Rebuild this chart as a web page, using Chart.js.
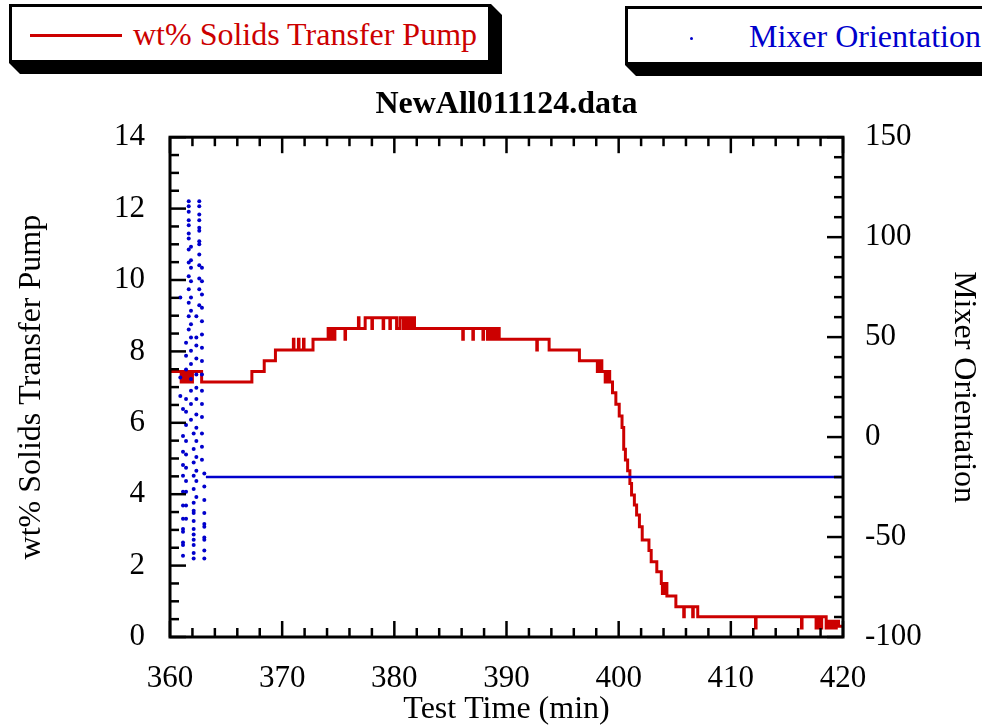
<!DOCTYPE html>
<html>
<head>
<meta charset="utf-8">
<title>NewAll011124.data</title>
<script src="https://cdn.jsdelivr.net/npm/chart.js@4/dist/chart.umd.min.js"></script>
<style>
  html, body { margin: 0; padding: 0; background: #fff; overflow: hidden; }
  #wrap { position: relative; width: 982px; height: 728px; overflow: hidden; }
  #wrap canvas { position: absolute; left: 0; top: 0; }
  .abs { position: absolute; }
  .shade { background: #000; }
  .key { box-sizing: border-box; background: #fff; border: 3px solid #000; }
  .txt { white-space: nowrap; font-family: "Liberation Serif", "Times New Roman", serif; font-size: 32px; line-height: 32px; }
</style>
</head>
<body>
<div id="wrap">
  <canvas id="chart" width="982" height="728"></canvas>

  <!-- key: solids -->
  <div class="abs shade" style="left:9px;top:4px;width:493px;height:70px;clip-path:polygon(482px 0,493px 11px,493px 70px,11px 70px,0 59px);"></div>
  <div class="abs key" style="left:9px;top:4px;width:482px;height:59px;"></div>
  <div class="abs" style="left:30px;top:34px;width:92px;height:3px;background:#cc0000;"></div>
  <span class="abs txt" style="left:133px;top:18px;color:#cc0000;">wt% Solids Transfer Pump</span>

  <!-- key: mixer -->
  <div class="abs shade" style="left:625px;top:6px;width:400px;height:70px;clip-path:polygon(0 0,400px 0,400px 70px,11px 70px,0 59px);"></div>
  <div class="abs key" style="left:625px;top:6px;width:420px;height:59px;"></div>
  <div class="abs" style="left:690px;top:37px;width:3px;height:3px;border-radius:50%;background:#0000cc;"></div>
  <span class="abs txt" style="left:749px;top:20px;color:#0000cc;">Mixer Orientation</span>
</div>

<script>
// ---- data ----
// wt% solids at the transfer pump: time (min) where the reading changes, and the new reading
const pumpTime = [
  360.0,
  361.00, 361.08, 361.16, 361.24, 361.32, 361.40, 361.48, 361.56, 361.64, 361.72, 361.80, 361.88, 361.94, 362.00,
  362.82, 367.3, 368.4, 369.4,
  371.0, 371.05, 371.45, 371.5, 371.9, 371.95, 372.75,
  374.1, 374.2, 374.3, 374.4, 374.5, 374.6, 374.7,
  375.6, 375.65, 376.8, 376.85, 377.4,
  378.0, 378.05, 379.0, 379.05, 379.6, 379.65, 380.2, 380.5,
  380.8, 380.9, 381.0, 381.1, 381.2, 381.3, 381.4, 381.5, 381.6, 381.7, 381.8,
  386.1, 386.15, 387.0, 387.05, 387.9, 387.95,
  388.3, 388.4, 388.5, 388.6, 388.7, 388.8, 388.9, 389.0, 389.1, 389.2, 389.35,
  392.7, 392.75, 393.8,
  396.5,
  398.1, 398.15, 398.3, 398.35, 398.5,
  398.8, 398.85, 398.95, 399.0, 399.1, 399.15, 399.2,
  399.45, 399.75, 400.05, 400.3, 400.45, 400.6, 400.8, 401.0, 401.15, 401.4, 401.6, 401.85,
  402.1, 402.7, 402.9, 403.4,
  403.8, 403.9, 404.0, 404.1, 404.2, 404.3,
  405.1, 405.8, 405.85, 406.6, 406.65, 407.05,
  412.2, 412.25, 416.3, 416.35,
  417.6, 417.75, 418.0, 418.1,
  418.5, 418.6, 418.8, 419.0, 419.2, 419.4, 419.6, 420.0
];
const pumpWt = [
  7.44,
  7.14, 7.44, 7.14, 7.44, 7.14, 7.44, 7.14, 7.44, 7.14, 7.44, 7.14, 7.44, 7.14, 7.44,
  7.14, 7.44, 7.74, 8.04,
  8.34, 8.04, 8.34, 8.04, 8.34, 8.04, 8.34,
  8.64, 8.34, 8.64, 8.34, 8.64, 8.34, 8.64,
  8.34, 8.64, 8.94, 8.64, 8.94,
  8.64, 8.94, 8.64, 8.94, 8.64, 8.94, 8.64, 8.94,
  8.64, 8.94, 8.64, 8.94, 8.64, 8.94, 8.64, 8.94, 8.64, 8.94, 8.64,
  8.34, 8.64, 8.34, 8.64, 8.34, 8.64,
  8.34, 8.64, 8.34, 8.64, 8.34, 8.64, 8.34, 8.64, 8.34, 8.64, 8.34,
  8.04, 8.34, 8.04,
  7.74,
  7.44, 7.74, 7.44, 7.74, 7.44,
  7.14, 7.44, 7.14, 7.44, 7.14, 7.44, 7.14,
  6.84, 6.52, 6.19, 5.87, 5.26, 4.96, 4.66, 4.30, 3.98, 3.70, 3.42, 3.09,
  2.72, 2.42, 2.11, 1.83,
  1.50, 1.22, 1.50, 1.22, 1.50, 1.15,
  0.85, 0.57, 0.85, 0.57, 0.85, 0.57,
  0.25, 0.57, 0.25, 0.57,
  0.25, 0.57, 0.25, 0.57,
  0.25, 0.44, 0.25, 0.44, 0.25, 0.44, 0.30, 0.30
];

// mixer orientation while sweeping: sample times and the readings logged at each
const mixerSweepTime = [360.92, 361.16, 361.43, 361.67, 361.87, 362.11, 362.35, 362.61, 362.85, 363.06];
const mixerSweepDeg = [
  [69.8, 29.8, 20.5],
  [14, 0.5, -7.3, -14, -19.3, -27.3, -34.2, -40.8, -46, -47.3, -52.7, -54, -59.3],
  [47.2, 40.7, 33.8, 19, 12.7, 6, -2, -8.7, -15.3, -22, -27.3, -34.2, -40.8],
  [118, 115.5, 112.7, 108.5, 106, 101.8, 99.3, 93.8, 87.3, 80.5, 74, 67.2, 60.5, 53.8],
  [95.2, 88.5, 84.7, 78, 69.8, 63.2, 56.5, 49.8, 43.2, 36.5, 29, 23.2, 16.5, 8.7],
  [1.8, -6, -12.7, -19.3, -26, -32.8, -36.8, -38, -42, -46, -48.7, -51.3, -54, -58, -60.7],
  [60.5, 49.8, 45.8, 39.3, 31.3, 24.7, 19, 11.3, 4.7, -2, -10, -16.8, -22, -30],
  [118, 115.5, 111.3, 108.5, 104.7, 103.2, 98, 96.5, 91.3, 86, 79.3, 74, 66],
  [84.7, 78, 71.3, 64.7, 58, 51.3, 44.7, 38, 31.3, 23.2, 16.5, 10, 1.8, -4.8, -11.3],
  [-18.2, -24.7, -31.5, -38, -43.5, -44.8, -50.2, -51.3, -56.7, -60.7]
];
// mixer parked after the sweep
const mixerParkedTime = [363.2, 420.0];
const mixerParkedDeg = [-20, -20];

// axis ticks
const timeTicks = [360, 370, 380, 390, 400, 410, 420];
const solidsTicks = [0, 2, 4, 6, 8, 10, 12, 14];
const mixerTicks = [-100, -50, 0, 50, 100, 150];
const timeMinorStep = 2;
const solidsMinorStep = 0.5;
const mixerMinorStep = 10;

// ---- chart ----
const RED = '#cc0000';
const BLUE = '#0000cc';
const SERIF = '"Liberation Serif", "Times New Roman", serif';

const pumpPoints = pumpTime.map((t, i) => ({ x: t, y: pumpWt[i] }));
const sweepPoints = [];
mixerSweepTime.forEach((t, i) => mixerSweepDeg[i].forEach(d => sweepPoints.push({ x: t, y: d })));
const parkedPoints = mixerParkedTime.map((t, i) => ({ x: t, y: mixerParkedDeg[i] }));

// closed frame with inward major/minor tick marks on all four sides
const frameTicks = {
  id: 'frameTicks',
  afterDatasetsDraw(chart) {
    const { ctx, chartArea: a, scales } = chart;
    ctx.save();
    ctx.strokeStyle = '#000';
    ctx.lineCap = 'butt';
    ctx.lineWidth = 2.5;
    const seg = (x1, y1, x2, y2) => { ctx.beginPath(); ctx.moveTo(x1, y1); ctx.lineTo(x2, y2); ctx.stroke(); };
    const walk = (scale, majors, step, draw) => {
      const n = Math.round((scale.max - scale.min) / step);
      for (let i = 0; i <= n; i++) {
        const v = scale.min + i * step;
        const major = majors.some(m => Math.abs(m - v) < 1e-6);
        draw(scale.getPixelForValue(v), major ? 16 : 9);
      }
    };
    walk(scales.x, timeTicks, timeMinorStep, (px, len) => {
      seg(px, a.bottom, px, a.bottom - len);
      seg(px, a.top, px, a.top + len);
    });
    walk(scales.y, solidsTicks, solidsMinorStep, (py, len) => seg(a.left, py, a.left + len, py));
    walk(scales.y1, mixerTicks, mixerMinorStep, (py, len) => seg(a.right, py, a.right - len, py));
    ctx.lineWidth = 3;
    ctx.lineJoin = 'miter';
    ctx.strokeRect(a.left, a.top, a.right - a.left, a.bottom - a.top);
    ctx.restore();
  }
};

const tickFont = { family: SERIF, size: 31, lineHeight: 1 };
const titleFont = { family: SERIF, size: 32, lineHeight: 1 };

new Chart(document.getElementById('chart'), {
  type: 'line',
  data: {
    datasets: [
      {
        label: 'Mixer Orientation',
        data: sweepPoints,
        yAxisID: 'y1',
        showLine: false,
        pointRadius: 2,
        pointBorderWidth: 0,
        pointBackgroundColor: BLUE,
        order: 0
      },
      {
        label: 'Mixer Orientation',
        data: parkedPoints,
        yAxisID: 'y1',
        borderColor: BLUE,
        borderWidth: 2.5,
        pointRadius: 0,
        order: 0
      },
      {
        label: 'wt% Solids Transfer Pump',
        data: pumpPoints,
        yAxisID: 'y',
        stepped: 'before',
        borderColor: RED,
        borderWidth: 3,
        borderJoinStyle: 'miter',
        pointRadius: 0,
        order: 1
      }
    ]
  },
  options: {
    responsive: false,
    animation: false,
    events: [],
    layout: { padding: { top: 80, left: 0, right: 0, bottom: 0 } },
    plugins: {
      legend: { display: false },
      tooltip: { enabled: false },
      title: {
        display: true,
        text: 'NewAll011124.data',
        color: '#000',
        fullSize: false,
        font: { family: SERIF, size: 32, weight: 'bold', lineHeight: 1.2 },
        padding: { top: 5.5, bottom: 13.3 }
      }
    },
    scales: {
      x: {
        type: 'linear',
        position: 'bottom',
        min: 360,
        max: 420,
        grid: { display: false, drawTicks: false },
        border: { display: false },
        afterBuildTicks: s => { s.ticks = timeTicks.map(v => ({ value: v })); },
        afterFit: s => { s.height = 91; },
        ticks: { color: '#000', font: tickFont, padding: 26, maxRotation: 0, autoSkip: false },
        title: { display: true, text: 'Test Time (min)', color: '#000', font: titleFont, padding: { top: 0, bottom: 2.5 } }
      },
      y: {
        type: 'linear',
        position: 'left',
        min: 0,
        max: 14,
        grid: { display: false, drawTicks: false },
        border: { display: false },
        afterBuildTicks: s => { s.ticks = solidsTicks.map(v => ({ value: v })); },
        afterFit: s => { s.width = 170; },
        ticks: { color: '#000', font: tickFont, padding: 25 },
        title: { display: true, text: 'wt% Solids Transfer Pump', color: '#000', font: titleFont, padding: { top: 16, bottom: 0 } }
      },
      y1: {
        type: 'linear',
        position: 'right',
        min: -100,
        max: 150,
        grid: { display: false, drawTicks: false },
        border: { display: false },
        afterBuildTicks: s => { s.ticks = mixerTicks.map(v => ({ value: v })); },
        afterFit: s => { s.width = 139; },
        ticks: { color: '#000', font: tickFont, padding: 22 },
        title: { display: true, text: 'Mixer Orientation', color: '#000', font: titleFont, padding: { top: 3, bottom: 0 } }
      }
    }
  },
  plugins: [frameTicks]
});
</script>
</body>
</html>
